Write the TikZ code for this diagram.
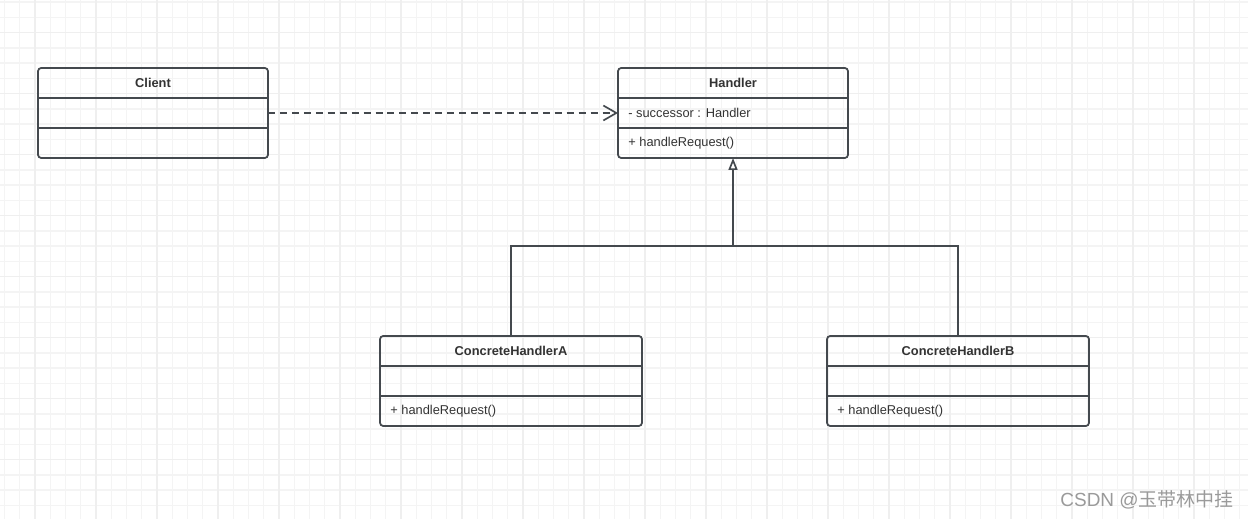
\documentclass[tikz,border=0pt]{standalone}
\usepackage{fontspec}
\setmainfont{Liberation Sans}
\newfontfamily\cjk{Noto Sans CJK SC}
\usetikzlibrary{positioning, arrows.meta, calc}

\definecolor{linec}{HTML}{44494E}
\definecolor{textc}{HTML}{333333}
\definecolor{gridminor}{HTML}{F4F4F4}
\definecolor{gridmajor}{HTML}{EFEFEF}
\definecolor{markc}{HTML}{9A9A9A}

\begin{document}
\begin{tikzpicture}[
    x=0.02cm, y=-0.02cm, font=\fontsize{7.3}{9}\selectfont, text=textc,
    classbox/.style={draw=linec, line width=1pt, rounded corners=1.8pt, outer sep=0pt,
                     inner sep=0pt, minimum width=4.6cm, minimum height=1.8cm},
    widebox/.style={classbox, minimum width=5.24cm},
    divider/.style={draw=linec, line width=1pt},
    title/.style={font=\fontsize{7.3}{9}\selectfont\bfseries, inner sep=0pt},
    member/.style={anchor=west, inner sep=0pt},
    link/.style={draw=linec, line width=0.95pt}
]

    % Background and grid
    \fill[white] (0,0) rectangle (1248,519);
    \useasboundingbox (0,0) rectangle (1248,519);
    \foreach \i in {-2,...,79}
        \draw[gridminor, line width=0.8pt] ({35+15.25*\i},0) -- ({35+15.25*\i},519);
    \foreach \j in {-2,...,31}
        \draw[gridminor, line width=0.8pt] (0,{32.7+15.25*\j}) -- (1248,{32.7+15.25*\j});
    \foreach \i in {0,...,19}
        \draw[gridmajor, line width=0.8pt] ({35+61*\i},0) -- ({35+61*\i},519);
    \foreach \j in {0,...,7}
        \draw[gridmajor, line width=0.8pt] (0,{32.7+61*\j}) -- (1248,{32.7+61*\j});

    % Classes
    \node[classbox] (client) at (153,113) {};
    \node[classbox] (handler) at (733,113) {};
    \node[widebox] (concA) at (511,381) {};
    \node[widebox] (concB) at (958,381) {};

    \foreach \c in {client, handler, concA, concB} {
        \draw[divider] ($(\c.north west)+(0,30)$) -- ($(\c.north east)+(0,30)$);
        \draw[divider] ($(\c.north west)+(0,60)$) -- ($(\c.north east)+(0,60)$);
    }

    % Names and members
    \node[title] (clientT) at ($(client.north)+(0,15)$) {Client};
    \node[title] (handlerT) at ($(handler.north)+(0,15)$) {Handler};
    \node[member] (handlerA) at ($(handler.north west)+(10,45)$) {- successor : Handler};
    \node[member] (handlerM) at ($(handler.north west)+(10,75)$) {+ handleRequest()};
    \node[title] (concAT) at ($(concA.north)+(0,15)$) {ConcreteHandlerA};
    \node[member] (concAM) at ($(concA.north west)+(10,75)$) {+ handleRequest()};
    \node[title] (concBT) at ($(concB.north)+(0,15)$) {ConcreteHandlerB};
    \node[member] (concBM) at ($(concB.north west)+(10,75)$) {+ handleRequest()};

    % Dependency
    \draw[link, dash pattern=on 4pt off 2.8pt,
          -{Straight Barb[length=7.4pt, width=8.5pt]}] (client.east) -- (handler.west);

    % Generalization
    \coordinate (joint) at (733,246);
    \draw[link] (concA.north) -- (concA.north |- joint) -- (concB.north |- joint) -- (concB.north);
    \draw[link, -{Triangle[open, length=6.8pt, width=5.1pt]}] (joint) -- (handler.south);

    % Watermark
    \node[font=\fontsize{10.8}{12}\selectfont, text=markc] (mark) at (1147,500) {CSDN @{\cjk 玉带林中挂}};

\end{tikzpicture}
\end{document}
